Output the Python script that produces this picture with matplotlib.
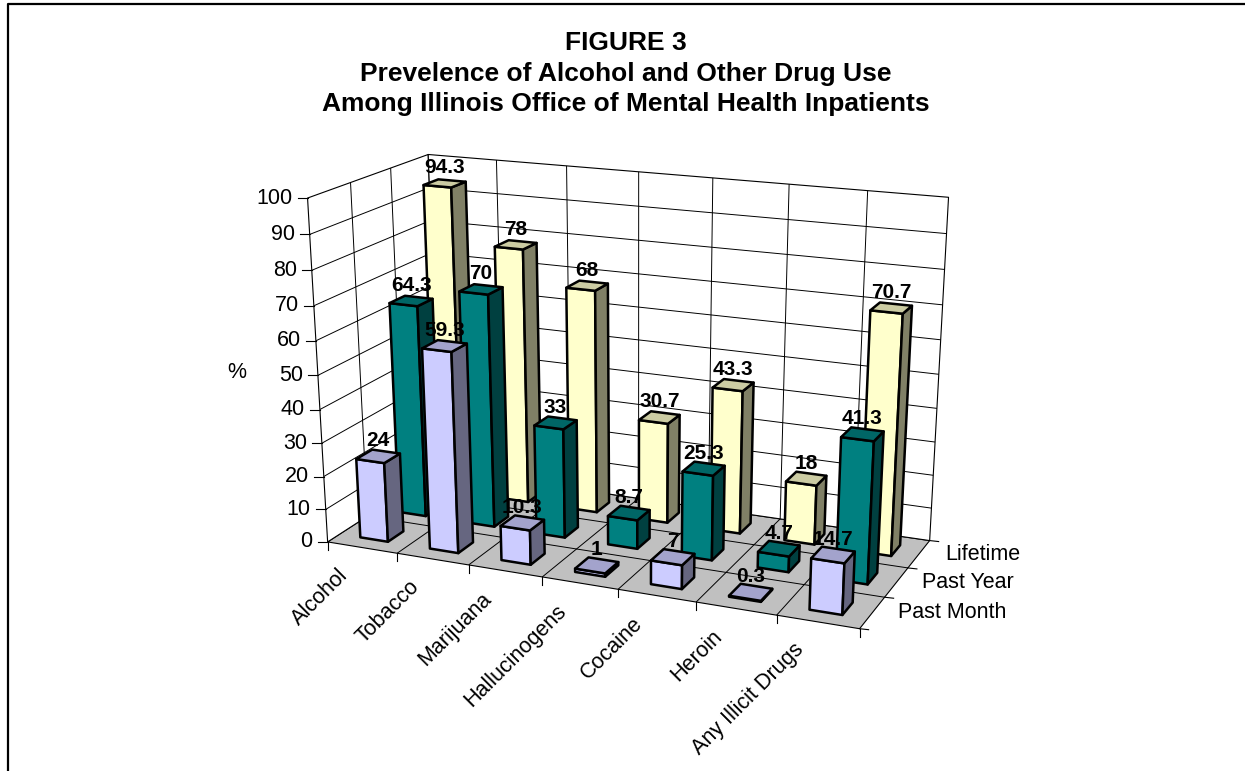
import numpy as np
import matplotlib
matplotlib.use("Agg")
import matplotlib.pyplot as plt
from matplotlib.patches import Polygon

plt.rcParams['font.family'] = ['Liberation Sans', 'DejaVu Sans']

# ---------------- data ----------------
categories = ["Alcohol", "Tobacco", "Marijuana", "Hallucinogens", "Cocaine",
              "Heroin", "Any Illicit Drugs"]
series_names = ["Past Month", "Past Year", "Lifetime"]
past_month = [24, 59.3, 10.3, 1, 7, 0.3, 14.7]
past_year = [64.3, 70, 33, 8.7, 25.3, 4.7, 41.3]
lifetime = [94.3, 78, 68, 30.7, 43.3, 18, 70.7]
z_ticks = [0, 10, 20, 30, 40, 50, 60, 70, 80, 90, 100]
title_lines = ["FIGURE 3",
               "Prevelence of Alcohol and Other Drug Use",
               "Among Illinois Office of Mental Health Inpatients"]
axis_label = "%"

series_values = [past_month, past_year, lifetime]
front_colors = ["#CCCCFF", "#008080", "#FFFFCC"]
top_colors = ["#A3A3CC", "#006666", "#CCCCA3"]
side_colors = ["#666680", "#004040", "#808066"]

# ---------------- figure ----------------
W, H = 1245, 771
fig = plt.figure(figsize=(W / 100, H / 100), dpi=100)
ax = fig.add_axes([0, 0, 1, 1])
ax.set_xlim(0, W)
ax.set_ylim(H, 0)
ax.axis('off')

n_cat = len(categories)
n_ser = len(series_names)
z_max = z_ticks[-1]

# perspective camera fitted to the reference's frame corners
calib = [
    ((0, 0, 0), (328, 541)), ((n_cat, 0, 0), (860, 627)), ((n_cat, n_ser, 0), (930, 540)),
    ((0, 0, z_max), (307, 198)), ((0, n_ser, z_max), (427, 153)), ((n_cat, n_ser, z_max), (949, 197)),
    ((0, 1, z_max), (352, 182)), ((0, 2, z_max), (391, 168)),
    ((1, n_ser, z_max), (497, 161)), ((2, n_ser, z_max), (567, 167)), ((3, n_ser, z_max), (638, 172)),
    ((4, n_ser, z_max), (712, 178)), ((5, n_ser, z_max), (789, 184)), ((6, n_ser, z_max), (868, 191)),
    ((1, 0, 0), (398, 553)), ((2, 0, 0), (468, 566)), ((3, 0, 0), (542, 578)),
    ((4, 0, 0), (618, 590)), ((5, 0, 0), (696, 603)), ((6, 0, 0), (776, 615)),
    ((0, 0, z_max / 2), (317.5, 375)),
]
ZS, PC, PS = 20.0, 600.0, 400.0
A = []
for (X, Y, Z), (u, v) in calib:
    Z = Z / ZS
    u = (u - PC) / PS
    v = (v - PC * 2 / 3) / PS
    A.append([X, Y, Z, 1, 0, 0, 0, 0, -u * X, -u * Y, -u * Z, -u])
    A.append([0, 0, 0, 0, X, Y, Z, 1, -v * X, -v * Y, -v * Z, -v])
_, _, vt = np.linalg.svd(np.array(A, dtype=float))
P = vt[-1].reshape(3, 4)


def proj(pts):
    pts = np.atleast_2d(np.asarray(pts, dtype=float))
    h = np.c_[pts[:, 0], pts[:, 1], pts[:, 2] / ZS, np.ones(len(pts))] @ P.T
    u = h[:, 0] / h[:, 2] * PS + PC
    v = h[:, 1] / h[:, 2] * PS + PC * 2 / 3
    return np.c_[u, v]


def poly(pts, fc, ec='black', lw=0.8, z=1):
    ax.add_patch(Polygon(proj(pts), closed=True, facecolor=fc, edgecolor=ec,
                         linewidth=lw, joinstyle='round', zorder=z))


def line(p0, p1, lw=0.7, z=2, color='black'):
    q = proj([p0, p1])
    ax.plot(q[:, 0], q[:, 1], color=color, lw=lw, zorder=z, solid_capstyle='butt')


# walls and floor
poly([(0, 0, 0), (n_cat, 0, 0), (n_cat, n_ser, 0), (0, n_ser, 0)], '#C0C0C0', z=1)
poly([(0, 0, 0), (0, n_ser, 0), (0, n_ser, z_max), (0, 0, z_max)], 'white', z=1)
poly([(0, n_ser, 0), (n_cat, n_ser, 0), (n_cat, n_ser, z_max), (0, n_ser, z_max)], 'white', z=1)

for t in z_ticks[1:-1]:
    line((0, 0, t), (0, n_ser, t))
    line((0, n_ser, t), (n_cat, n_ser, t))
for k in range(1, n_ser):
    line((0, k, 0), (0, k, z_max))
    line((0, k, 0), (n_cat, k, 0))
for k in range(1, n_cat):
    line((k, n_ser, 0), (k, n_ser, z_max))
    line((k, 0, 0), (k, n_ser, 0))

# ticks and tick labels
for t in z_ticks:
    x, y = proj([(0, 0, t)])[0]
    ax.plot([x - 10, x], [y, y], color='black', lw=0.8, zorder=2)
    ax.text(x - 15, y, f"{t}", ha='right', va='center', fontsize=15.5, zorder=2)
for k in range(n_cat + 1):
    x, y = proj([(k, 0, 0)])[0]
    ax.plot([x, x], [y, y + 8], color='black', lw=0.8, zorder=2)
for k in range(n_ser + 1):
    x, y = proj([(n_cat, k, 0)])[0]
    ax.plot([x, x + 9], [y, y + 1], color='black', lw=0.8, zorder=2)
for i, name in enumerate(categories):
    x, y = proj([(i + 0.5, 0, 0)])[0]
    ax.text(x - 17, y + 25, name, rotation=45, rotation_mode='anchor',
            ha='right', va='center', fontsize=15.5, zorder=2)
for j, name in enumerate(series_names):
    x, y = proj([(n_cat, j + 0.5, 0)])[0]
    ax.text(x + 26, y, name, ha='left', va='center', fontsize=15.5, zorder=2)
ax.text(237, 373, axis_label, ha='center', va='center', fontsize=15.5)

# bars
bw, bd = 0.4, 0.4
zo = 10
for j in range(n_ser - 1, -1, -1):
    for i in range(n_cat):
        v = series_values[j][i]
        x0, x1 = i + 0.5 - bw / 2, i + 0.5 + bw / 2
        y0, y1 = j + 0.5 - bd / 2, j + 0.5 + bd / 2
        poly([(x0, y0, 0), (x1, y0, 0), (x1, y0, v), (x0, y0, v)], front_colors[j], lw=1.8, z=zo)
        poly([(x1, y0, 0), (x1, y1, 0), (x1, y1, v), (x1, y0, v)], side_colors[j], lw=1.8, z=zo)
        poly([(x0, y0, v), (x1, y0, v), (x1, y1, v), (x0, y1, v)], top_colors[j], lw=1.8, z=zo)
        zo += 1

# data labels
for j in range(n_ser):
    for i in range(n_cat):
        v = series_values[j][i]
        x, y = proj([(i + 0.5, j + 0.5, v)])[0]
        ax.text(x, y - 6, f"{v:g}", ha='center', va='bottom', fontsize=15,
                fontweight='bold', zorder=200)

# title
for k, (txt, yb) in enumerate(zip(title_lines, [50, 80.5, 111])):
    ax.text(626, yb, txt, ha='center', va='baseline', fontsize=19, fontweight='bold')

# outer frame
ax.plot([8, 8, W + 5], [H + 5, 4, 4], color='black', lw=1.6, zorder=300, clip_on=False)

fig.savefig("out.png", dpi=100)
